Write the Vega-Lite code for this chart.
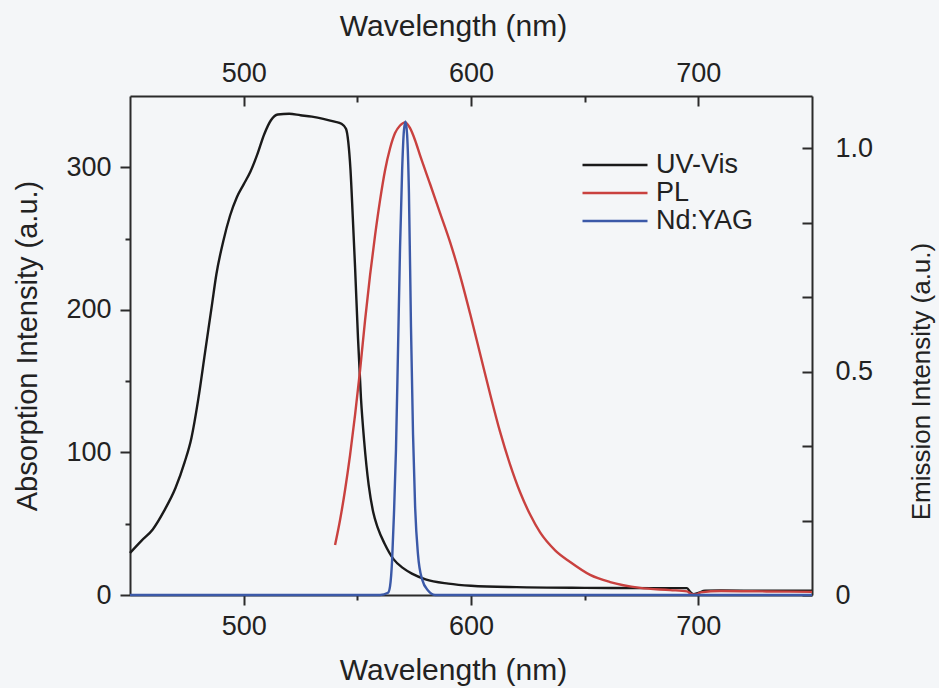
{
  "$schema": "https://vega.github.io/schema/vega-lite/v6.json",
  "width": 682,
  "height": 499,
  "autosize": {"type": "none"},
  "padding": {"left": 130, "top": 96, "right": 127, "bottom": 93},
  "background": "#f4f6f8",
  "config": {
    "view": {"stroke": null},
    "font": "Liberation Sans",
    "axis": {
      "domainColor": "#2b2b2b", "domainWidth": 2, "tickColor": "#2b2b2b", "tickWidth": 2,
      "labelFont": "Liberation Sans", "labelFontSize": 27, "labelColor": "#222",
      "titleFont": "Liberation Sans", "titleFontSize": 29, "titleFontWeight": "normal", "titleColor": "#222",
      "grid": false, "labelFlush": false, "labelOverlap": false
    }
  },
  "datasets": {
    "uv": [
      {"wl": 450, "abs": 29.5}, {"wl": 455, "abs": 38}, {"wl": 460, "abs": 46}, {"wl": 465, "abs": 59},
      {"wl": 470, "abs": 75}, {"wl": 474, "abs": 93}, {"wl": 477, "abs": 110}, {"wl": 480, "abs": 137},
      {"wl": 483, "abs": 170}, {"wl": 486, "abs": 203}, {"wl": 488, "abs": 225}, {"wl": 491, "abs": 248},
      {"wl": 494, "abs": 266}, {"wl": 497, "abs": 279}, {"wl": 500, "abs": 288}, {"wl": 503, "abs": 297},
      {"wl": 506, "abs": 309}, {"wl": 509, "abs": 323}, {"wl": 512, "abs": 333}, {"wl": 515, "abs": 337},
      {"wl": 520, "abs": 337.5}, {"wl": 525, "abs": 336.5}, {"wl": 530, "abs": 335.5}, {"wl": 535, "abs": 334},
      {"wl": 540, "abs": 332}, {"wl": 543, "abs": 330.5}, {"wl": 545, "abs": 327}, {"wl": 546, "abs": 318},
      {"wl": 547, "abs": 298}, {"wl": 548, "abs": 265}, {"wl": 549, "abs": 230}, {"wl": 550.3, "abs": 180},
      {"wl": 551.6, "abs": 138}, {"wl": 553, "abs": 108}, {"wl": 555, "abs": 77}, {"wl": 557, "abs": 58},
      {"wl": 559, "abs": 47}, {"wl": 562, "abs": 36}, {"wl": 566, "abs": 25}, {"wl": 570, "abs": 19},
      {"wl": 574, "abs": 15}, {"wl": 580, "abs": 11}, {"wl": 590, "abs": 8}, {"wl": 600, "abs": 6.5},
      {"wl": 620, "abs": 5.5}, {"wl": 650, "abs": 5}, {"wl": 680, "abs": 4.8}, {"wl": 695, "abs": 4.8},
      {"wl": 696.5, "abs": 2}, {"wl": 698, "abs": 0.5}, {"wl": 700, "abs": 1.5}, {"wl": 703, "abs": 3},
      {"wl": 710, "abs": 3.2}, {"wl": 730, "abs": 3}, {"wl": 750, "abs": 3}
    ],
    "pl": [
      {"wl": 540.2, "em": 0.112}, {"wl": 542.4, "em": 0.168}, {"wl": 544.6, "em": 0.235}, {"wl": 546.8, "em": 0.313},
      {"wl": 549, "em": 0.403}, {"wl": 551.2, "em": 0.503}, {"wl": 553.4, "em": 0.615}, {"wl": 555.6, "em": 0.716},
      {"wl": 557.8, "em": 0.805}, {"wl": 560, "em": 0.884}, {"wl": 562.2, "em": 0.951}, {"wl": 564.4, "em": 1.0},
      {"wl": 566.6, "em": 1.034}, {"wl": 568.8, "em": 1.051}, {"wl": 571, "em": 1.058}, {"wl": 573.2, "em": 1.045},
      {"wl": 575.4, "em": 1.018}, {"wl": 577.6, "em": 0.984}, {"wl": 582, "em": 0.92}, {"wl": 586.4, "em": 0.855},
      {"wl": 590.8, "em": 0.79}, {"wl": 595.2, "em": 0.715}, {"wl": 599.6, "em": 0.63}, {"wl": 604, "em": 0.54},
      {"wl": 608.4, "em": 0.45}, {"wl": 612.8, "em": 0.365}, {"wl": 617.2, "em": 0.292}, {"wl": 621.6, "em": 0.23},
      {"wl": 626, "em": 0.18}, {"wl": 630.4, "em": 0.14}, {"wl": 637, "em": 0.1}, {"wl": 643.6, "em": 0.074},
      {"wl": 652.4, "em": 0.045}, {"wl": 661.2, "em": 0.029}, {"wl": 674.4, "em": 0.016}, {"wl": 687.6, "em": 0.011},
      {"wl": 695, "em": 0.008}, {"wl": 697, "em": 0.002}, {"wl": 699, "em": 0.001}, {"wl": 701, "em": 0.006},
      {"wl": 710, "em": 0.009}, {"wl": 730, "em": 0.008}, {"wl": 750, "em": 0.007}
    ],
    "yag": [
      {"wl": 450, "em": 0}, {"wl": 560, "em": 0}, {"wl": 563.5, "em": 0.005}, {"wl": 564.4, "em": 0.02},
      {"wl": 565.3, "em": 0.078}, {"wl": 566.1, "em": 0.18}, {"wl": 567, "em": 0.325}, {"wl": 567.9, "em": 0.55},
      {"wl": 568.8, "em": 0.78}, {"wl": 569.7, "em": 0.95}, {"wl": 570.5, "em": 1.04}, {"wl": 571.2, "em": 1.06},
      {"wl": 571.9, "em": 1.03}, {"wl": 572.7, "em": 0.9}, {"wl": 573.6, "em": 0.6}, {"wl": 574.5, "em": 0.36},
      {"wl": 575.4, "em": 0.2}, {"wl": 576.7, "em": 0.09}, {"wl": 578.5, "em": 0.035}, {"wl": 581.1, "em": 0.01},
      {"wl": 584.2, "em": 0}, {"wl": 750, "em": 0}
    ]
  },
  "layer": [
    {
      "data": {"name": "uv"},
      "mark": {"type": "line", "strokeWidth": 2.4, "interpolate": "monotone"},
      "encoding": {
        "x": {
          "field": "wl", "type": "quantitative",
          "scale": {"domain": [450, 750], "nice": false, "zero": false},
          "axis": {
            "orient": "bottom", "title": "Wavelength (nm)",
            "values": [500, 550, 600, 650, 700],
            "labelExpr": "datum.value % 100 == 0 ? datum.label : ''",
            "tickSize": {"condition": {"test": "datum.value % 100 == 0", "value": 10}, "value": 5},
            "labelPadding": 8, "titlePadding": 16, "titleFontSize": 30, "titleX": 323
          }
        },
        "y": {
          "field": "abs", "type": "quantitative",
          "scale": {"domain": [0, 350], "nice": false},
          "axis": {
            "orient": "left", "title": "Absorption Intensity (a.u.)",
            "values": [0, 50, 100, 150, 200, 250, 300],
            "labelExpr": "datum.value % 100 == 0 ? datum.label : ''",
            "tickSize": {"condition": {"test": "datum.value % 100 == 0", "value": 10}, "value": 5},
            "labelPadding": 9,
            "titleAngle": 270, "titleX": -103, "titleY": 249.5,
            "titleBaseline": "middle", "titleAlign": "center"
          }
        },
        "color": {
          "datum": "UV-Vis", "type": "nominal",
          "scale": {"domain": ["UV-Vis", "PL", "Nd:YAG"], "range": ["#1a1a1a", "#c9413f", "#3b59a8"]},
          "legend": {
            "orient": "none", "legendX": 471.5, "legendY": 55.5, "title": null,
            "symbolType": "M-3.25,0H3.25", "symbolSize": 400, "symbolStrokeWidth": 2.5,
            "labelFont": "Liberation Sans", "labelFontSize": 27, "labelColor": "#222",
            "labelOffset": 27.5, "rowPadding": 0, "padding": 0, "labelLimit": 300
          }
        }
      }
    },
    {
      "data": {"name": "pl"},
      "mark": {"type": "line", "strokeWidth": 2.4, "interpolate": "monotone"},
      "encoding": {
        "x": {
          "field": "wl", "type": "quantitative",
          "scale": {"domain": [450, 750], "nice": false, "zero": false},
          "axis": {
            "orient": "top", "title": "Wavelength (nm)",
            "values": [500, 550, 600, 650, 700],
            "labelExpr": "datum.value % 100 == 0 ? datum.label : ''",
            "tickSize": {"condition": {"test": "datum.value % 100 == 0", "value": -10}, "value": -6},
            "labelPadding": 19, "titlePadding": 14, "titleFontSize": 30, "titleX": 323
          }
        },
        "y": {
          "field": "em", "type": "quantitative",
          "scale": {"domain": [0, 1.117], "nice": false},
          "axis": {
            "orient": "right", "title": "Emission Intensity (a.u.)",
            "values": [0, 0.16667, 0.33333, 0.5, 0.66667, 0.83333, 1.0],
            "labelExpr": "datum.value == 0 ? '0' : (abs(datum.value - 0.5) < 0.001 ? '0.5' : (abs(datum.value - 1) < 0.001 ? '1.0' : ''))",
            "tickSize": -10, "labelPadding": 33,
            "titleAngle": 270, "titleFontSize": 26, "titleX": 109, "titleY": 285,
            "titleBaseline": "middle", "titleAlign": "center"
          }
        },
        "color": {"datum": "PL", "type": "nominal"}
      }
    },
    {
      "data": {"name": "yag"},
      "mark": {"type": "line", "strokeWidth": 2.4, "interpolate": "monotone"},
      "encoding": {
        "x": {"field": "wl", "type": "quantitative", "scale": {"domain": [450, 750], "nice": false, "zero": false}, "axis": null},
        "y": {"field": "em", "type": "quantitative", "scale": {"domain": [0, 1.117], "nice": false}, "axis": null},
        "color": {"datum": "Nd:YAG", "type": "nominal"}
      }
    }
  ],
  "resolve": {"scale": {"y": "independent"}, "axis": {"x": "independent", "y": "independent"}}
}
